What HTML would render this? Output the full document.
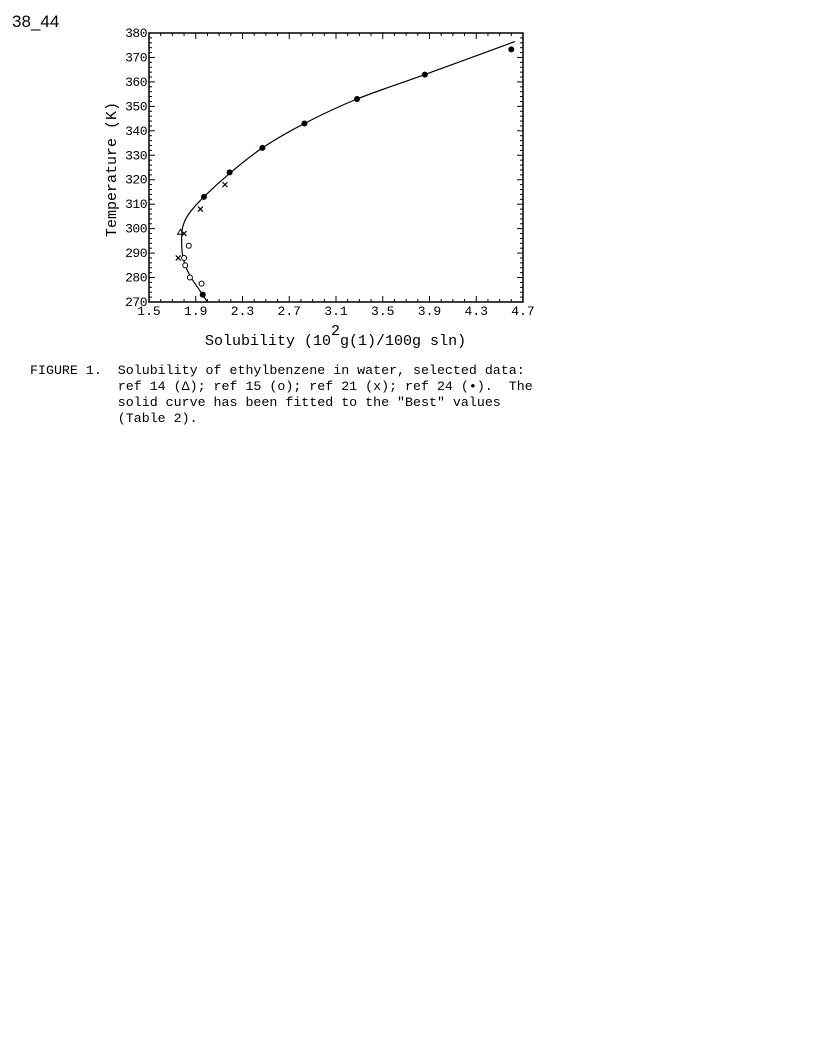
<!DOCTYPE html>
<html><head><meta charset="utf-8"><style>
body{margin:0;background:#fff;width:816px;height:1059px;overflow:hidden;position:relative}
#title{position:absolute;left:12px;top:12px;font:17px "Liberation Sans",sans-serif}
.cap{position:absolute;font:13.3px "Liberation Mono",monospace;white-space:pre;line-height:16px}
</style></head><body>
<div id="title">38_44</div>
<svg id="chart" width="816" height="360" style="position:absolute;left:0;top:0"></svg>
<div class="cap" style="left:30px;top:363px">FIGURE 1.  Solubility of ethylbenzene in water, selected data:
           ref 14 (Δ); ref 15 (o); ref 21 (x); ref 24 (•).  The
           solid curve has been fitted to the "Best" values
           (Table 2).</div>
<script>
const xTicks=[1.5,1.9,2.3,2.7,3.1,3.5,3.9,4.3,4.7];
const xTickLabels=["1.5","1.9","2.3","2.7","3.1","3.5","3.9","4.3","4.7"];
const yTicks=[270,280,290,300,310,320,330,340,350,360,370,380];
const ref24X=[4.6,3.86,3.28,2.83,2.47,2.19,1.97,1.96];
const ref24T=[373.3,363,353,343,333,323,313,273];
const ref15X=[1.80,1.81,1.85,1.95,1.84];
const ref15T=[288,285,280,277.5,293];
const ref21X=[2.15,1.94,1.80,1.75];
const ref21T=[318,308,298,288];
const ref14X=[1.77];
const ref14T=[298.5];
const curveX=[2.0,1.93,1.86,1.81,1.785,1.78,1.79,1.84,1.97,2.2,2.47,2.83,3.28,3.86,4.63];
const curveT=[270,275,280,285,290,296,301,306,313,323,333,343,353,363,376.5];
const L=149,R=523,T=33,B=302;
const sx=v=>L+(v-1.5)/(4.7-1.5)*(R-L);
const sy=v=>B-(v-270)/(380-270)*(B-T);
const svg=document.getElementById('chart');
const NS='http://www.w3.org/2000/svg';
function mk(tag,attrs){const e=document.createElementNS(NS,tag);for(const k in attrs)e.setAttribute(k,attrs[k]);svg.appendChild(e);return e;}
let e=mk('rect',{x:L,y:T,width:R-L,height:B-T,fill:'none',stroke:'#000','stroke-width':1.5});


for(let v=1.5;v<=4.7001;v+=0.1){const x=sx(v);const major=Math.abs(((v-1.5)/0.4)-Math.round((v-1.5)/0.4))<1e-6;const len=major?6:3;
 mk('line',{x1:x,x2:x,y1:B,y2:B-len,stroke:'#000'});mk('line',{x1:x,x2:x,y1:T,y2:T+len,stroke:'#000'});}
for(let v=270;v<=380;v+=2){const y=sy(v);const len=v%10===0?6:3;
 mk('line',{x1:L,x2:L+len,y1:y,y2:y,stroke:'#000'});mk('line',{x1:R,x2:R-len,y1:y,y2:y,stroke:'#000'});}
xTicks.forEach((v,i)=>{const t=mk('text',{x:sx(v),y:B+13,'text-anchor':'middle','font-family':'Liberation Mono,monospace','font-size':13});t.textContent=xTickLabels[i];

});
yTicks.forEach(v=>{const t=mk('text',{x:L-2,y:sy(v)+4,'text-anchor':'end','font-family':'Liberation Mono,monospace','font-size':13,'letter-spacing':-0.5});t.textContent=v;

});
let yt=mk('text',{x:0,y:0,transform:`translate(116,${(T+B)/2+2}) rotate(-90)`,'text-anchor':'middle','font-family':'Liberation Mono,monospace','font-size':15});
yt.textContent='Temperature  (K)';


let xt=mk('text',{x:205,y:345,'font-family':'Liberation Mono,monospace','font-size':15});
xt.innerHTML='Solubility (10<tspan dy="-10">2</tspan><tspan dy="10">g(1)/100g sln)</tspan>';


const P=curveX.map((v,i)=>[sx(v),sy(curveT[i])]);
let d='M'+P[0][0].toFixed(1)+','+P[0][1].toFixed(1);
for(let i=0;i<P.length-1;i++){const p0=P[Math.max(0,i-1)],p1=P[i],p2=P[i+1],p3=P[Math.min(P.length-1,i+2)];
 const c1=[p1[0]+(p2[0]-p0[0])/6,p1[1]+(p2[1]-p0[1])/6],c2=[p2[0]-(p3[0]-p1[0])/6,p2[1]-(p3[1]-p1[1])/6];
 d+=`C${c1[0].toFixed(1)},${c1[1].toFixed(1)} ${c2[0].toFixed(1)},${c2[1].toFixed(1)} ${p2[0].toFixed(1)},${p2[1].toFixed(1)}`;}
let c=mk('path',{d:d,fill:'none',stroke:'#000','stroke-width':1.2});


ref24X.forEach((v,i)=>{const p=mk('circle',{cx:sx(v),cy:sy(ref24T[i]),r:3,fill:'#000'});

});
ref15X.forEach((v,i)=>{const p=mk('circle',{cx:sx(v),cy:sy(ref15T[i]),r:2.5,fill:'#fff',stroke:'#000'});

});
ref21X.forEach((v,i)=>{const x=sx(v),y=sy(ref21T[i]);const p=mk('path',{d:`M${x-2.5},${y-2.5}L${x+2.5},${y+2.5}M${x+2.5},${y-2.5}L${x-2.5},${y+2.5}`,stroke:'#000','stroke-width':1.2});

});
ref14X.forEach((v,i)=>{const x=sx(v),y=sy(ref14T[i]);const p=mk('path',{d:`M${x},${y-3}L${x+3},${y+2}L${x-3},${y+2}Z`,fill:'none',stroke:'#000'});

});
</script>
</body></html>
